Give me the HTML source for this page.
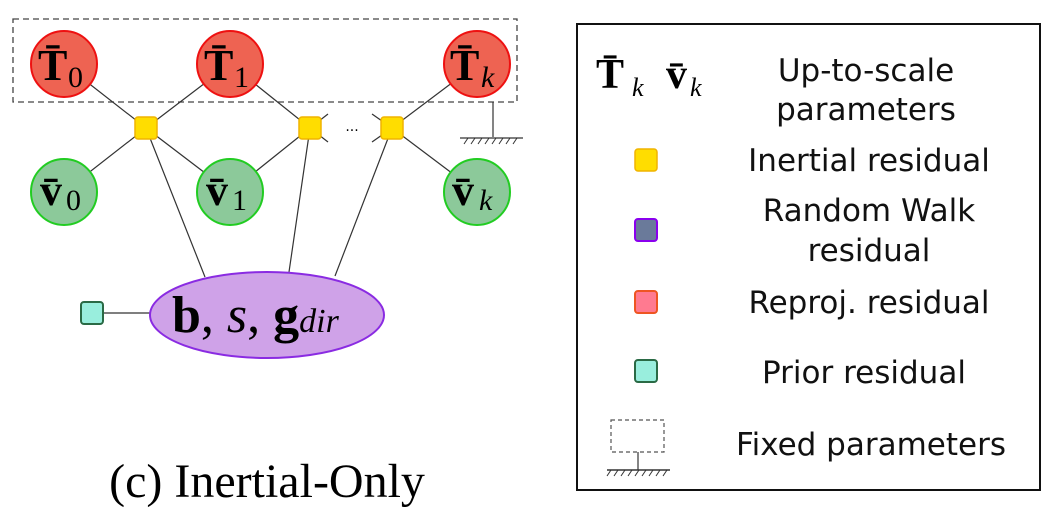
<!DOCTYPE html>
<html><head><style>
body{margin:0;background:#fff;}
svg text{font-family:"DejaVu Sans","Liberation Sans",sans-serif;}
svg .m, svg .m text{font-family:"Liberation Serif",serif;}
</style></head><body>
<svg width="1049" height="512" viewBox="0 0 1049 512" xmlns="http://www.w3.org/2000/svg">
<rect x="13" y="19" width="504" height="83" fill="none" stroke="#444" stroke-width="1.3" stroke-dasharray="6,4"/>
<g stroke="#333" stroke-width="1.2">
<line x1="64" y1="64" x2="146" y2="128"/><line x1="230" y1="64" x2="146" y2="128"/>
<line x1="64" y1="192" x2="146" y2="128"/><line x1="230" y1="192" x2="146" y2="128"/>
<line x1="230" y1="64" x2="310" y2="128"/><line x1="230" y1="192" x2="310" y2="128"/>
<line x1="477" y1="64" x2="392" y2="128"/><line x1="477" y1="192" x2="392" y2="128"/>
<line x1="310" y1="128" x2="328" y2="114"/><line x1="310" y1="128" x2="328" y2="142"/>
<line x1="392" y1="128" x2="372" y2="114"/><line x1="392" y1="128" x2="372" y2="142"/>
<line x1="146" y1="128" x2="205" y2="277"/><line x1="310" y1="128" x2="289" y2="272"/>
<line x1="392" y1="128" x2="335" y2="276"/>
<line x1="103" y1="313" x2="152" y2="313"/>
<line x1="493" y1="102" x2="493" y2="137"/><line x1="460" y1="138" x2="523" y2="138"/>
</g>
<g stroke="#333" stroke-width="1">
<line x1="464" y1="144" x2="468" y2="138"/><line x1="471" y1="144" x2="475" y2="138"/><line x1="478" y1="144" x2="482" y2="138"/><line x1="485" y1="144" x2="489" y2="138"/><line x1="492" y1="144" x2="496" y2="138"/><line x1="499" y1="144" x2="503" y2="138"/><line x1="506" y1="144" x2="510" y2="138"/><line x1="513" y1="144" x2="517" y2="138"/>
</g>
<text x="352" y="131" font-size="14" text-anchor="middle">...</text>
<g fill="#ee6352" stroke="#e11" stroke-width="2">
<circle cx="64" cy="64" r="33"/><circle cx="230" cy="64" r="33"/><circle cx="477" cy="64" r="33"/></g>
<g fill="#8cc99a" stroke="#2c2" stroke-width="2">
<circle cx="64" cy="192" r="33"/><circle cx="230" cy="192" r="33"/><circle cx="477" cy="192" r="33"/></g>
<g fill="#ffdd00" stroke="#f0b400" stroke-width="1.5">
<rect x="135" y="117" width="22" height="22" rx="3"/><rect x="299" y="117" width="22" height="22" rx="3"/><rect x="381" y="117" width="22" height="22" rx="3"/></g>
<rect x="81" y="302" width="22" height="22" rx="3" fill="#99eedd" stroke="#2a6a45" stroke-width="2"/>
<ellipse cx="267" cy="315" rx="117" ry="43" fill="#cfa2e8" stroke="#8a2be2" stroke-width="2"/>
<g class="m" font-weight="bold" font-size="44">
<text x="38" y="80">T̄</text><text x="204" y="80">T̄</text><text x="450" y="80">T̄</text>
<text x="40" y="205">v̄</text><text x="206" y="205">v̄</text><text x="452" y="205">v̄</text>
</g>
<g class="m" font-size="30">
<text x="68" y="87">0</text><text x="234" y="87">1</text><text x="481" y="87" font-style="italic">k</text>
<text x="66" y="210">0</text><text x="232" y="210">1</text><text x="479" y="210" font-style="italic">k</text>
</g>
<text class="m" x="172" y="332" font-size="52"><tspan font-weight="bold">b</tspan>, <tspan font-style="italic">s</tspan>, <tspan font-weight="bold">g</tspan><tspan font-style="italic" font-size="34">dir</tspan></text>
<text class="m" x="267" y="497" font-size="48" text-anchor="middle">(c) Inertial-Only</text>
<rect x="577" y="24" width="463" height="466" fill="none" stroke="#111" stroke-width="2"/>
<g class="m">
<text x="596" y="88" font-size="42" font-weight="bold">T̄</text><text x="632" y="96" font-size="26" font-style="italic">k</text>
<text x="666" y="88" font-size="42" font-weight="bold">v̄</text><text x="690" y="96" font-size="26" font-style="italic">k</text>
</g>
<g font-size="31" text-anchor="middle" fill="#111">
<text x="866" y="81">Up-to-scale</text><text x="866" y="120">parameters</text>
<text x="869" y="171">Inertial residual</text>
<text x="869" y="221">Random Walk</text><text x="869" y="261">residual</text>
<text x="869" y="313">Reproj. residual</text>
<text x="864" y="383">Prior residual</text>
<text x="871" y="455">Fixed parameters</text>
</g>
<rect x="635" y="149" width="22" height="22" rx="3" fill="#ffdd00" stroke="#f0b400" stroke-width="1.5"/>
<rect x="635" y="219" width="22" height="22" rx="3" fill="#6a7a9a" stroke="#8a00ee" stroke-width="2"/>
<rect x="635" y="291" width="22" height="22" rx="3" fill="#ff7a90" stroke="#ee5522" stroke-width="2"/>
<rect x="635" y="360" width="22" height="22" rx="3" fill="#99eedd" stroke="#2a6a45" stroke-width="2"/>
<rect x="611" y="420" width="53" height="32" fill="none" stroke="#555" stroke-width="1.2" stroke-dasharray="4,3"/>
<line x1="638" y1="452" x2="638" y2="470" stroke="#333" stroke-width="1.2"/>
<line x1="607" y1="470" x2="670" y2="470" stroke="#333" stroke-width="1.5"/>
<g stroke="#333" stroke-width="1"><line x1="607" y1="476" x2="611" y2="470"/><line x1="614" y1="476" x2="618" y2="470"/><line x1="621" y1="476" x2="625" y2="470"/><line x1="628" y1="476" x2="632" y2="470"/><line x1="635" y1="476" x2="639" y2="470"/><line x1="642" y1="476" x2="646" y2="470"/><line x1="649" y1="476" x2="653" y2="470"/><line x1="656" y1="476" x2="660" y2="470"/><line x1="663" y1="476" x2="667" y2="470"/></g>
</svg>
</body></html>
